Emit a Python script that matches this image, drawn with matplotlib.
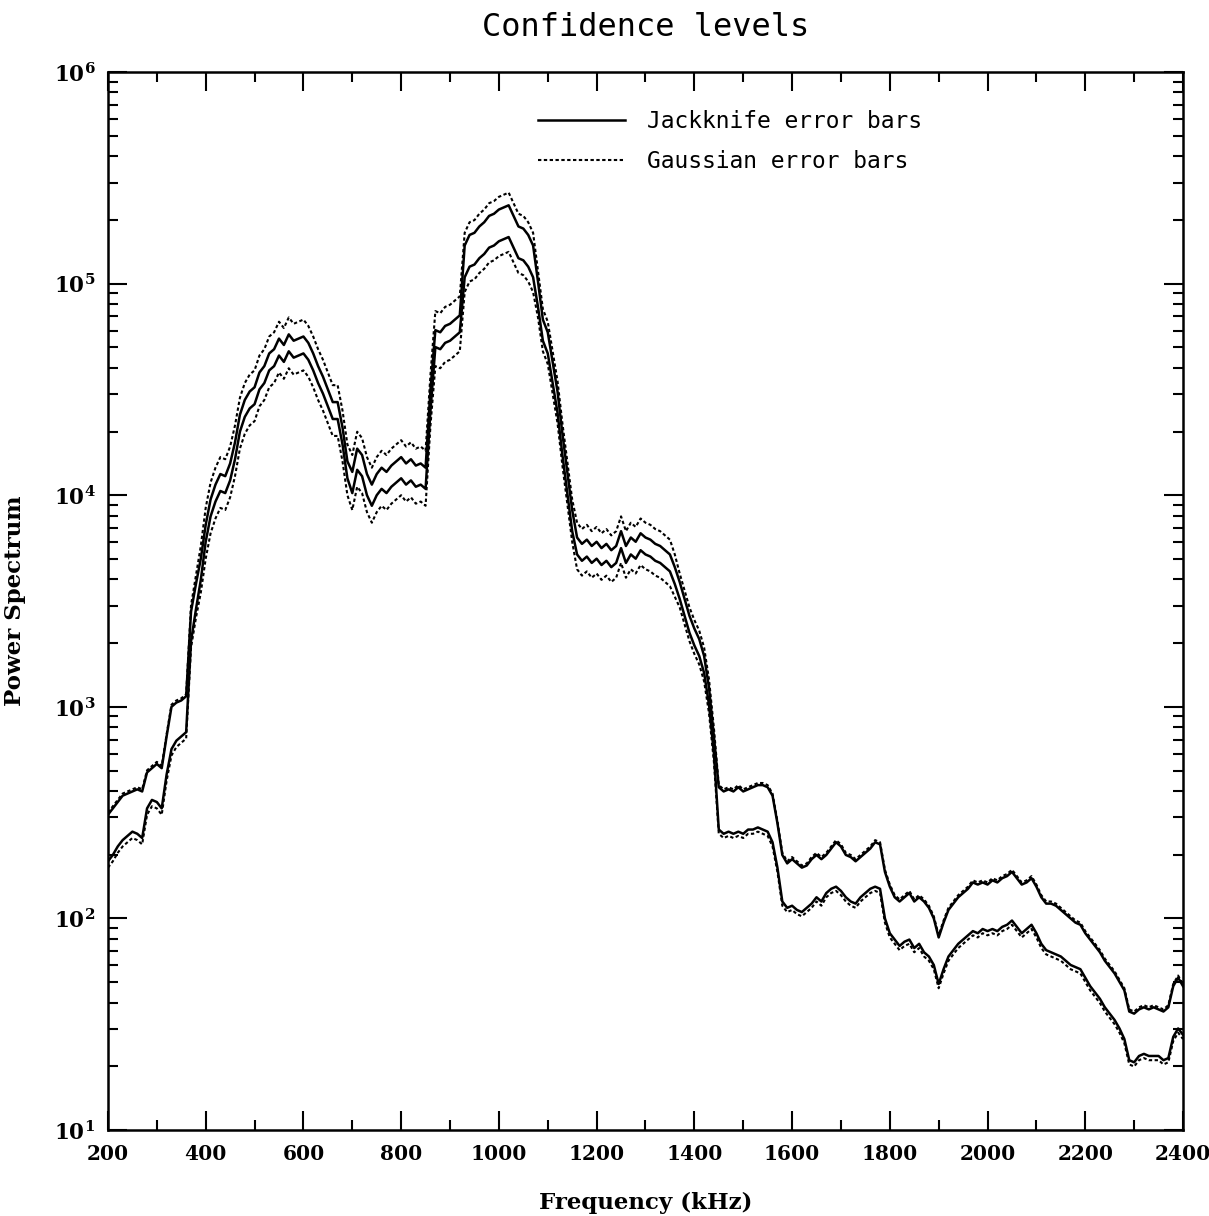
import numpy as np
import matplotlib
matplotlib.use('Agg')
import matplotlib.pyplot as plt
from matplotlib.ticker import MultipleLocator, LogLocator, FuncFormatter, NullFormatter

plt.rcParams['mathtext.fontset'] = 'dejavuserif'

# frequency grid (kHz), one reading every 10 kHz
freq = np.arange(200, 2410, 10)

# log10 of the power spectrum bounds (rows = 100 kHz)
jack_upper = [
    2.49, 2.52, 2.55, 2.58, 2.59, 2.60, 2.61, 2.60, 2.69, 2.71,
    2.73, 2.71, 2.86, 3.00, 3.02, 3.03, 3.05, 3.45, 3.58, 3.70,
    3.86, 3.98, 4.05, 4.10, 4.09, 4.15, 4.25, 4.38, 4.45, 4.49,
    4.51, 4.58, 4.61, 4.67, 4.69, 4.74, 4.71, 4.76, 4.73, 4.74,
    4.75, 4.72, 4.67, 4.61, 4.56, 4.50, 4.44, 4.44, 4.32, 4.16,
    4.11, 4.22, 4.19, 4.10, 4.05, 4.10, 4.13, 4.11, 4.14, 4.16,
    4.18, 4.15, 4.17, 4.14, 4.15, 4.13, 4.50, 4.78, 4.77, 4.80,
    4.81, 4.83, 4.85, 5.18, 5.23, 5.24, 5.27, 5.29, 5.32, 5.33,
    5.35, 5.36, 5.37, 5.32, 5.27, 5.26, 5.23, 5.18, 5.01, 4.83,
    4.77, 4.63, 4.49, 4.29, 4.11, 3.93, 3.80, 3.77, 3.79, 3.76,
    3.78, 3.75, 3.77, 3.74, 3.76, 3.83, 3.76, 3.80, 3.78, 3.82,
    3.80, 3.79, 3.77, 3.76, 3.74, 3.72, 3.66, 3.59, 3.51, 3.43,
    3.37, 3.32, 3.24, 3.09, 2.86, 2.62, 2.60, 2.61, 2.60, 2.62,
    2.60, 2.61, 2.62, 2.63, 2.63, 2.62, 2.58, 2.45, 2.30, 2.26,
    2.28, 2.26, 2.24, 2.25, 2.28, 2.30, 2.28, 2.30, 2.33, 2.36,
    2.34, 2.30, 2.29, 2.27, 2.29, 2.31, 2.33, 2.36, 2.35, 2.22,
    2.15, 2.10, 2.08, 2.10, 2.12, 2.08, 2.10, 2.08, 2.05, 2.00,
    1.91, 1.98, 2.04, 2.07, 2.10, 2.12, 2.14, 2.17, 2.16, 2.17,
    2.16, 2.18, 2.17, 2.19, 2.20, 2.22, 2.19, 2.16, 2.17, 2.19,
    2.15, 2.10, 2.07, 2.07, 2.06, 2.04, 2.02, 2.00, 1.98, 1.97,
    1.93, 1.90, 1.87, 1.84, 1.80, 1.77, 1.74, 1.70, 1.66, 1.56,
    1.55, 1.57, 1.58, 1.57, 1.58, 1.57, 1.56, 1.58, 1.68, 1.72,
    1.68,
]
jack_lower = [
    2.27, 2.30, 2.34, 2.37, 2.39, 2.41, 2.40, 2.38, 2.52, 2.56,
    2.55, 2.52, 2.68, 2.80, 2.84, 2.86, 2.88, 3.31, 3.46, 3.60,
    3.78, 3.90, 3.97, 4.02, 4.01, 4.07, 4.17, 4.30, 4.37, 4.41,
    4.43, 4.50, 4.53, 4.59, 4.61, 4.66, 4.63, 4.68, 4.65, 4.66,
    4.67, 4.64, 4.59, 4.53, 4.48, 4.42, 4.36, 4.36, 4.24, 4.08,
    4.01, 4.12, 4.09, 4.00, 3.95, 4.00, 4.03, 4.01, 4.04, 4.06,
    4.08, 4.05, 4.07, 4.04, 4.05, 4.03, 4.40, 4.70, 4.69, 4.72,
    4.73, 4.75, 4.77, 5.03, 5.08, 5.09, 5.12, 5.14, 5.17, 5.18,
    5.20, 5.21, 5.22, 5.17, 5.12, 5.11, 5.08, 5.03, 4.89, 4.73,
    4.67, 4.53, 4.39, 4.19, 4.01, 3.83, 3.72, 3.69, 3.71, 3.68,
    3.70, 3.67, 3.69, 3.66, 3.68, 3.75, 3.68, 3.72, 3.70, 3.74,
    3.72, 3.71, 3.69, 3.68, 3.66, 3.64, 3.58, 3.51, 3.43, 3.35,
    3.29, 3.24, 3.16, 3.01, 2.78, 2.42, 2.40, 2.41, 2.40, 2.41,
    2.40, 2.42, 2.42, 2.43, 2.42, 2.41, 2.36, 2.24, 2.08, 2.05,
    2.06, 2.04, 2.03, 2.05, 2.07, 2.10, 2.08, 2.12, 2.14, 2.15,
    2.13, 2.10, 2.08, 2.07, 2.10, 2.12, 2.14, 2.15, 2.14, 2.00,
    1.93, 1.90, 1.87, 1.89, 1.90, 1.86, 1.88, 1.84, 1.82, 1.78,
    1.69, 1.76, 1.82, 1.85, 1.88, 1.90, 1.92, 1.94, 1.93, 1.95,
    1.94, 1.95, 1.94, 1.96, 1.97, 1.99, 1.96, 1.93, 1.95, 1.97,
    1.93, 1.88, 1.85, 1.84, 1.83, 1.82, 1.80, 1.78, 1.77, 1.76,
    1.72, 1.68, 1.65, 1.62, 1.58, 1.55, 1.52, 1.48, 1.43, 1.33,
    1.32, 1.35, 1.36, 1.35, 1.35, 1.35, 1.33, 1.34, 1.44, 1.48,
    1.45,
]
gauss_upper = [
    2.50, 2.53, 2.56, 2.59, 2.60, 2.61, 2.62, 2.61, 2.70, 2.72,
    2.74, 2.72, 2.87, 3.01, 3.03, 3.04, 3.06, 3.48, 3.62, 3.76,
    3.94, 4.06, 4.13, 4.18, 4.17, 4.23, 4.33, 4.46, 4.53, 4.57,
    4.59, 4.66, 4.69, 4.75, 4.77, 4.82, 4.79, 4.84, 4.81, 4.82,
    4.83, 4.80, 4.75, 4.69, 4.64, 4.58, 4.52, 4.52, 4.40, 4.24,
    4.19, 4.30, 4.27, 4.18, 4.13, 4.18, 4.21, 4.19, 4.22, 4.24,
    4.26, 4.23, 4.25, 4.22, 4.23, 4.21, 4.57, 4.87, 4.86, 4.89,
    4.90, 4.92, 4.94, 5.24, 5.29, 5.30, 5.33, 5.35, 5.38, 5.39,
    5.41, 5.42, 5.43, 5.38, 5.33, 5.32, 5.29, 5.24, 5.06, 4.88,
    4.82, 4.68, 4.54, 4.34, 4.16, 3.98, 3.87, 3.84, 3.86, 3.83,
    3.85, 3.82, 3.84, 3.81, 3.83, 3.90, 3.83, 3.87, 3.85, 3.89,
    3.87, 3.86, 3.84, 3.83, 3.81, 3.79, 3.72, 3.63, 3.55, 3.47,
    3.41, 3.36, 3.28, 3.13, 2.90, 2.63, 2.61, 2.62, 2.61, 2.63,
    2.61, 2.62, 2.63, 2.64, 2.64, 2.63, 2.59, 2.46, 2.31, 2.27,
    2.29, 2.27, 2.25, 2.26, 2.29, 2.31, 2.29, 2.31, 2.34, 2.37,
    2.35, 2.31, 2.30, 2.28, 2.30, 2.32, 2.34, 2.37, 2.36, 2.23,
    2.16, 2.11, 2.09, 2.11, 2.13, 2.09, 2.11, 2.09, 2.06, 2.01,
    1.92, 1.99, 2.05, 2.08, 2.11, 2.13, 2.15, 2.18, 2.17, 2.18,
    2.17, 2.19, 2.18, 2.20, 2.21, 2.23, 2.20, 2.17, 2.18, 2.20,
    2.16, 2.11, 2.08, 2.08, 2.07, 2.05, 2.03, 2.01, 1.99, 1.98,
    1.94, 1.91, 1.88, 1.85, 1.81, 1.78, 1.75, 1.71, 1.67, 1.57,
    1.56, 1.58, 1.59, 1.58, 1.59, 1.58, 1.57, 1.59, 1.69, 1.73,
    1.69,
]
gauss_lower = [
    2.24, 2.27, 2.31, 2.34, 2.36, 2.38, 2.37, 2.35, 2.49, 2.53,
    2.52, 2.49, 2.65, 2.77, 2.81, 2.83, 2.85, 3.28, 3.42, 3.54,
    3.70, 3.82, 3.89, 3.94, 3.93, 3.99, 4.09, 4.22, 4.29, 4.33,
    4.35, 4.42, 4.45, 4.51, 4.53, 4.58, 4.55, 4.60, 4.57, 4.58,
    4.59, 4.56, 4.51, 4.45, 4.40, 4.34, 4.28, 4.28, 4.16, 4.00,
    3.93, 4.04, 4.01, 3.92, 3.87, 3.92, 3.95, 3.93, 3.96, 3.98,
    4.00, 3.97, 3.99, 3.96, 3.97, 3.95, 4.33, 4.61, 4.60, 4.63,
    4.64, 4.66, 4.68, 4.96, 5.01, 5.02, 5.05, 5.07, 5.10, 5.11,
    5.13, 5.14, 5.15, 5.10, 5.05, 5.04, 5.01, 4.96, 4.84, 4.68,
    4.62, 4.48, 4.34, 4.14, 3.96, 3.78, 3.65, 3.62, 3.64, 3.61,
    3.63, 3.60, 3.62, 3.59, 3.61, 3.68, 3.61, 3.65, 3.63, 3.67,
    3.65, 3.64, 3.62, 3.61, 3.59, 3.57, 3.52, 3.47, 3.39, 3.31,
    3.25, 3.20, 3.12, 2.97, 2.74, 2.40, 2.38, 2.39, 2.38, 2.39,
    2.38, 2.40, 2.40, 2.41, 2.40, 2.39, 2.34, 2.22, 2.06, 2.03,
    2.04, 2.02, 2.01, 2.03, 2.05, 2.08, 2.06, 2.10, 2.12, 2.13,
    2.11, 2.08, 2.06, 2.05, 2.08, 2.10, 2.12, 2.13, 2.12, 1.98,
    1.91, 1.88, 1.85, 1.87, 1.88, 1.84, 1.86, 1.82, 1.80, 1.76,
    1.67, 1.74, 1.80, 1.83, 1.86, 1.88, 1.90, 1.92, 1.91, 1.93,
    1.92, 1.93, 1.92, 1.94, 1.95, 1.97, 1.94, 1.91, 1.93, 1.95,
    1.91, 1.86, 1.83, 1.82, 1.81, 1.80, 1.78, 1.76, 1.75, 1.74,
    1.70, 1.66, 1.63, 1.60, 1.56, 1.53, 1.50, 1.46, 1.41, 1.31,
    1.30, 1.33, 1.34, 1.33, 1.33, 1.33, 1.31, 1.32, 1.42, 1.46,
    1.43,
]

fig = plt.figure(figsize=(12.09, 12.16), dpi=100)
ax = fig.add_axes([0.0893, 0.0707, 0.8892, 0.8701])

solid = dict(color='black', lw=1.8, ls='-')
dotted = dict(color='black', lw=1.5, ls=(0, (1.6, 1.2)))

ax.plot(freq, 10 ** np.array(jack_upper), label='Jackknife error bars', **solid)
ax.plot(freq, 10 ** np.array(jack_lower), **solid)
ax.plot(freq, 10 ** np.array(gauss_upper), label='Gaussian error bars', **dotted)
ax.plot(freq, 10 ** np.array(gauss_lower), **dotted)

ax.set_yscale('log')
ax.set_xlim(200, 2400)
ax.set_ylim(1e1, 1e6)

ax.xaxis.set_major_locator(MultipleLocator(200))
ax.xaxis.set_minor_locator(MultipleLocator(100))
ax.yaxis.set_major_locator(LogLocator(base=10))
ax.yaxis.set_minor_locator(LogLocator(base=10, subs=np.arange(2, 10)))
ax.yaxis.set_minor_formatter(NullFormatter())
ax.yaxis.set_major_formatter(FuncFormatter(lambda v, p: r'$\mathbf{10^{%d}}$' % round(np.log10(v))))

ax.tick_params(which='both', direction='in', top=True, right=True, width=1.5)
ax.tick_params(which='major', length=14)
ax.tick_params(which='minor', length=7)
ax.tick_params(axis='x', which='major', pad=10)
ax.tick_params(axis='y', which='major', pad=9)
for lab in ax.get_xticklabels():
    lab.set_fontfamily('DejaVu Serif')
    lab.set_fontweight('bold')
    lab.set_fontsize(14.5)
for lab in ax.get_yticklabels():
    lab.set_fontsize(15.5)
for s in ax.spines.values():
    s.set_linewidth(1.8)

ax.set_xlabel('Frequency (kHz)', fontfamily='DejaVu Serif', fontweight='bold',
              fontsize=16.5, labelpad=20)
ax.set_ylabel('Power Spectrum', fontfamily='DejaVu Serif', fontweight='bold',
              fontsize=16.5, labelpad=20)

fig.text(0.534, 0.977, 'Confidence levels', ha='center', va='center',
         fontfamily='DejaVu Sans Mono', fontsize=23)

ax.legend(loc='upper left', bbox_to_anchor=(0.40, 0.964), frameon=False,
          prop={'family': 'DejaVu Sans Mono', 'size': 16.5},
          handlelength=3.8, handletextpad=0.95, labelspacing=0.75,
          borderpad=0, borderaxespad=0)

fig.savefig('out.png', dpi=100, facecolor='white')
